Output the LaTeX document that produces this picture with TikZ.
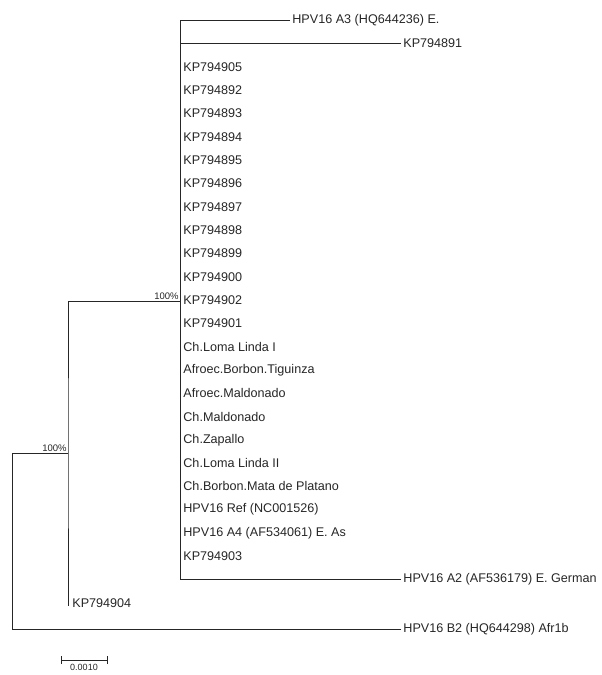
\documentclass[tikz,border=0pt]{standalone}
\usepackage{fontspec}
\setmainfont{Liberation Sans}
\usepackage{tikz}

\begin{document}
\begin{tikzpicture}
  [x=1pt, y=-1pt, line width=.8pt, color=black!85,
   tip/.style={anchor=west, inner sep=2pt, font=\fontsize{12.6}{14}\selectfont},
   boot/.style={inner sep=1pt, font=\fontsize{9.5}{11}\selectfont},
   bar/.style={inner sep=1pt, font=\fontsize{9}{10}\selectfont}]
  \useasboundingbox (0,0) rectangle (602,675);
  \coordinate (c1) at (12, 453);
  \coordinate (c2) at (68, 453);
  \coordinate (c3) at (180, 301);
  \node[tip] (a3) at (290, 20) {HPV16 A3 (HQ644236) E.};
  \node[tip] (k891) at (401, 43) {KP794891};
  \node[tip] (a2) at (401, 579) {HPV16 A2 (AF536179) E. German};
  \node[tip] (b2) at (401, 629) {HPV16 B2 (HQ644298) Afr1b};
  \node[tip] (k904) at (70, 603) {KP794904};
  \foreach \lab [count=\i] in {KP794905, KP794892, KP794893, KP794894,
    KP794895, KP794896, KP794897, KP794898, KP794899, KP794900, KP794902,
    KP794901, Ch.Loma Linda I, Afroec.Borbon.Tiguinza, Afroec.Maldonado,
    Ch.Maldonado, Ch.Zapallo, Ch.Loma Linda II, Ch.Borbon.Mata de Platano,
    HPV16 Ref (NC001526), HPV16 A4 (AF534061) E. As, KP794903}
  \node[tip] (s\i) at (181, 67+23.3*\i-23.3) {\lab};

  \draw (b2.west) -| (c1) -- (c2);
  \draw (c3) -| (c2) -- (68, 606);
  \draw (a3.west) -| (c3 |- a2) -- (a2.west);
  \draw (c3 |- k891) -- (k891.west);
  \node[boot, anchor=south east] (p3) at (c3) {100\%};
  \node[boot, anchor=south east] (p2) at (c2) {100\%};

  % scale bar
  \coordinate (r1) at (61, 660);
  \coordinate (r2) at (107, 660);
  \draw (r1) -- (r2);
  \draw ([yshift=-4pt]r1) -- ([yshift=4pt]r1);
  \draw ([yshift=-4pt]r2) -- ([yshift=4pt]r2);
  \node[bar, anchor=north] (lb) at (84, 663) {0.0010};
\end{tikzpicture}
\end{document}
